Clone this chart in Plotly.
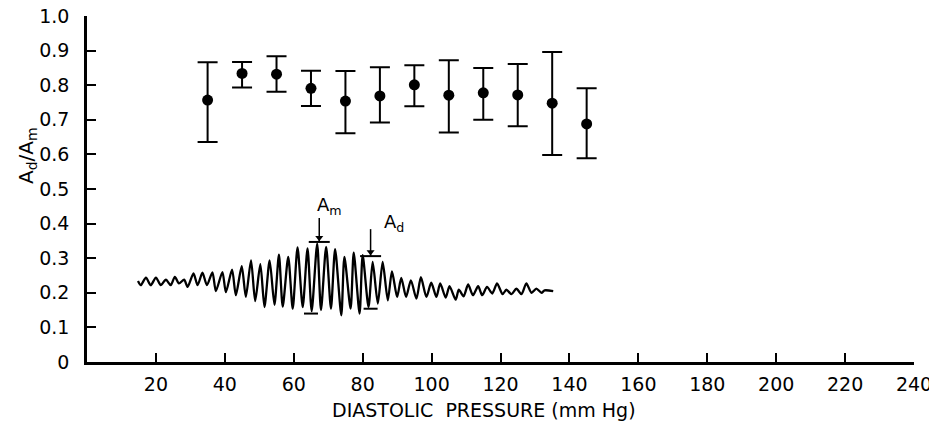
import plotly.graph_objects as go

# ---- data ----
pressure = [35, 45, 55, 65, 75, 85, 95, 105, 115, 125, 135, 145]
ratio_mean = [0.757, 0.834, 0.832, 0.791, 0.754, 0.769, 0.801, 0.771, 0.778, 0.772, 0.748, 0.688]
ratio_upper = [0.866, 0.867, 0.884, 0.842, 0.841, 0.852, 0.858, 0.872, 0.850, 0.861, 0.896, 0.791]
ratio_lower = [0.636, 0.793, 0.781, 0.740, 0.661, 0.692, 0.739, 0.663, 0.700, 0.681, 0.598, 0.589]

# oscillometric trace (inset illustration), peaks and troughs
wave_x = [14.8, 15.6, 17.1, 18.5, 20.0, 21.4, 22.9, 24.3, 25.5, 26.7, 28.2, 29.2, 30.9, 32.1,
          33.5, 34.8, 36.4, 37.4, 39.3, 40.3, 42.1, 43.2, 44.9, 46.1, 47.6, 48.8, 50.3, 51.5,
          53.0, 54.4, 55.7, 56.8, 58.4, 59.7, 61.1, 62.6, 64.0, 65.2, 66.8, 67.9, 69.4, 70.8,
          72.0, 73.8, 74.7, 76.5, 77.4, 79.1, 80.0, 81.7, 82.9, 84.4, 85.8, 87.3, 88.5, 90.0,
          91.2, 92.6, 94.0, 95.6, 96.9, 98.5, 99.9, 101.4, 102.5, 104.1, 105.2, 107.0, 107.9,
          109.3, 110.6, 112.0, 113.5, 114.7, 116.1, 117.6, 119.0, 120.6, 121.7, 123.2, 124.6,
          126.1, 127.5, 129.0, 130.4, 131.9, 132.8, 135.3]
wave_y = [0.234, 0.222, 0.244, 0.222, 0.244, 0.222, 0.238, 0.222, 0.246, 0.227, 0.238, 0.217,
          0.256, 0.222, 0.258, 0.222, 0.259, 0.205, 0.260, 0.202, 0.267, 0.193, 0.277, 0.188,
          0.294, 0.176, 0.283, 0.159, 0.294, 0.165, 0.310, 0.160, 0.304, 0.154, 0.331, 0.159,
          0.328, 0.147, 0.342, 0.150, 0.333, 0.154, 0.326, 0.135, 0.304, 0.154, 0.316, 0.140,
          0.309, 0.159, 0.289, 0.169, 0.289, 0.178, 0.262, 0.188, 0.243, 0.188, 0.236, 0.183,
          0.245, 0.188, 0.229, 0.188, 0.227, 0.186, 0.219, 0.180, 0.209, 0.190, 0.224, 0.193,
          0.219, 0.193, 0.217, 0.198, 0.227, 0.196, 0.209, 0.196, 0.212, 0.196, 0.227, 0.200,
          0.212, 0.200, 0.207, 0.205]

# amplitude markers on the trace
marker_labels = ["A<sub>m</sub>", "A<sub>d</sub>"]
marker_x = [67.4, 82.3]
marker_top = [0.347, 0.306]
marker_arrow_top = [0.416, 0.384]
marker_bottom_x = [65.0, 82.3]
marker_bottom = [0.140, 0.154]

x_ticks = [20, 40, 60, 80, 100, 120, 140, 160, 180, 200, 220, 240]
y_ticks = [0, 0.1, 0.2, 0.3, 0.4, 0.5, 0.6, 0.7, 0.8, 0.9, 1.0]
y_ticktext = ["0", "0.1", "0.2", "0.3", "0.4", "0.5", "0.6", "0.7", "0.8", "0.9", "1.0"]
x_title = "DIASTOLIC  PRESSURE (mm Hg)"
y_title = "A<sub>d</sub>/A<sub>m</sub>"

FONT = "DejaVu Sans"
# the page body adds an 8 px offset, so the figure is sized to fit the window
OFF = 8
W, H = 937 - OFF, 425 - OFF
L, T = 87 - OFF, 16 - OFF
R, B = W - (914 - OFF), H - (362 - OFF)
PW, PH = W - L - R, H - T - B

fig = go.Figure()

fig.add_trace(go.Scatter(
    x=wave_x, y=wave_y, mode="lines",
    line=dict(color="black", width=2.3, shape="spline", smoothing=0.7),
    hoverinfo="skip", showlegend=False))

# marker bars
fig.add_trace(go.Scatter(
    x=marker_x, y=marker_top, mode="markers",
    marker=dict(symbol="line-ew", size=15, line=dict(color="black", width=2)),
    showlegend=False, hoverinfo="skip"))
fig.add_trace(go.Scatter(
    x=marker_bottom_x, y=marker_bottom, mode="markers",
    marker=dict(symbol="line-ew", size=10, line=dict(color="black", width=2)),
    showlegend=False, hoverinfo="skip"))

# arrows (stem + head)
stem_x, stem_y = [], []
for mx, top, tail in zip(marker_x, marker_top, marker_arrow_top):
    stem_x += [mx, mx, None]
    stem_y += [tail, top, None]
fig.add_trace(go.Scatter(x=stem_x, y=stem_y, mode="lines",
                         line=dict(color="black", width=1.5),
                         showlegend=False, hoverinfo="skip"))
fig.add_trace(go.Scatter(x=marker_x, y=[t + 0.012 for t in marker_top], mode="markers",
                         marker=dict(symbol="triangle-down", size=7, color="black"),
                         showlegend=False, hoverinfo="skip"))

# data points with error bars
fig.add_trace(go.Scatter(
    x=pressure, y=ratio_mean, mode="markers",
    marker=dict(color="black", size=11),
    error_y=dict(type="data", symmetric=False,
                 array=[u - m for u, m in zip(ratio_upper, ratio_mean)],
                 arrayminus=[m - l for m, l in zip(ratio_mean, ratio_lower)],
                 color="black", thickness=2, width=10),
    showlegend=False))

label_shift = [(-4, 12), (11, 6)]
for lab, mx, my, (dx, dy) in zip(marker_labels, marker_x, marker_arrow_top, label_shift):
    fig.add_annotation(x=mx, y=my, xref="x", yref="y", text=lab, showarrow=False,
                       xanchor="left", yanchor="middle",
                       xshift=dx, yshift=dy, font=dict(family=FONT, size=18, color="black"))

# axis titles as annotations (placed as in the reference)
fig.add_annotation(x=(484 - OFF - L) / PW, y=-(410 - OFF - (T + PH)) / PH,
                   xref="paper", yref="paper",
                   text=x_title, showarrow=False, xanchor="center", yanchor="middle",
                   font=dict(family=FONT, size=19, color="black"))
fig.add_annotation(x=(27 - OFF - L) / PW, y=((T + PH) - (155 - OFF)) / PH,
                   xref="paper", yref="paper",
                   text=y_title, showarrow=False, textangle=-90, xanchor="center",
                   yanchor="middle", font=dict(family=FONT, size=20, color="black"))

fig.update_layout(
    width=W, height=H,
    margin=dict(l=L, r=R, t=T, b=B, autoexpand=False),
    paper_bgcolor="white", plot_bgcolor="white",
    font=dict(family=FONT, size=19, color="black"),
    showlegend=False,
)
fig.update_xaxes(
    range=[0, 240], tickvals=x_ticks, ticks="inside", ticklen=9, tickwidth=2,
    tickcolor="black", showline=True, linecolor="black", linewidth=2.5,
    showgrid=False, zeroline=False, ticklabelstandoff=3, automargin=False,
    ticklabeloverflow="allow")
fig.update_yaxes(
    range=[0, 1.0], tickvals=y_ticks, ticktext=y_ticktext, ticks="inside", ticklen=9,
    tickwidth=2, tickcolor="black", showline=True, linecolor="black", linewidth=2.5,
    showgrid=False, zeroline=False, ticklabelstandoff=11, automargin=False,
    ticklabeloverflow="allow")

fig.write_html("out.html")
